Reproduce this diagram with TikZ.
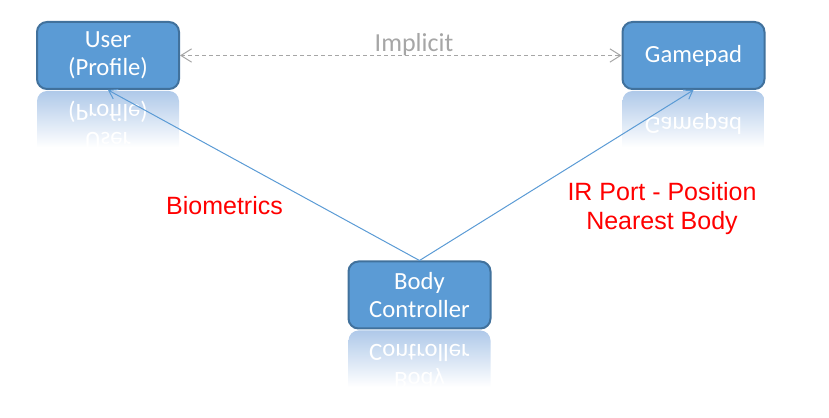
\documentclass[tikz,border=0pt]{standalone}
\usepackage{fontspec}
\setmainfont{Carlito}
\newfontfamily\arialfont{Liberation Sans}
\usepackage{graphicx}
\usetikzlibrary{arrows.meta}
\definecolor{boxfill}{HTML}{5B9BD5}
\definecolor{boxedge}{HTML}{41719C}
\definecolor{mirrortop}{HTML}{AFC9E9}
\definecolor{implicitgray}{HTML}{A6A6A6}
\definecolor{labelred}{HTML}{FF0000}
\pgfdeclareverticalshading{reflectfade}{100bp}{color(0bp)=(white); color(33bp)=(white); color(75bp)=(mirrortop); color(100bp)=(mirrortop)}
\tikzset{
  box/.style={shape=rectangle, rounded corners=7.5pt, draw=boxedge, line width=1.5pt, fill=boxfill, text=white, inner sep=0, minimum width=106.5pt, minimum height=50.25pt, align=center, font=\fontsize{18.5}{21}\selectfont},
  mirror/.style={shape=rectangle, rounded corners=7.5pt, shading=reflectfade, text=white, inner sep=0, minimum width=106.5pt, minimum height=50.25pt, align=center, font=\fontsize{18.5}{21}\selectfont},
  link/.style={draw=boxfill, line width=0.75pt, -{Straight Barb[length=6pt, width=8pt]}},
  implicitlink/.style={draw=implicitgray, line width=0.75pt, dash pattern=on 3pt off 2.25pt, {Straight Barb[length=8pt, width=10pt]}-{Straight Barb[length=8pt, width=10pt]}},
  redlabel/.style={text=labelred, align=center, inner sep=0, font=\arialfont\fontsize{18.75}{21.75}\selectfont}
}
\begin{document}
\begin{tikzpicture}[x=0.75pt, y=0.75pt]
          \useasboundingbox (0, 0) rectangle (829, 418);
          % Reflections:
          \node[mirror] (userR) at (108, 293.5) {\scalebox{1}[-1]{\begin{tabular}{@{}c@{}}User\\(Profile)\end{tabular}}};
          \node[mirror] (gamepadR) at (693.5, 293.5) {\scalebox{1}[-1]{Gamepad}};
          \node[mirror] (bodyR) at (419.5, 54) {\scalebox{1}[-1]{\begin{tabular}{@{}c@{}}Body\\Controller\end{tabular}}};
          % Paths, nodes and wires:
          \node[box] (user) at (108, 362.5) {User\\(Profile)};
          \node[box] (gamepad) at (693.5, 362.5) {Gamepad};
          \node[box] (body) at (419.5, 123) {Body\\Controller};
          \draw[implicitlink] (user) -- (gamepad);
          \node[anchor=base, text=implicitgray, inner sep=0, font=\fontsize{19.5}{22}\selectfont] (implicit) at (414, 366) {Implicit};
          \draw[link] (body.north) -- (user.south);
          \draw[link] (body.north) -- (gamepad.south);
          \node[redlabel, anchor=base] (biometrics) at (224.5, 203) {Biometrics};
          \node[redlabel] (irport) at (662, 209) {IR Port - Position\\Nearest Body};
        \end{tikzpicture}
\end{document}
